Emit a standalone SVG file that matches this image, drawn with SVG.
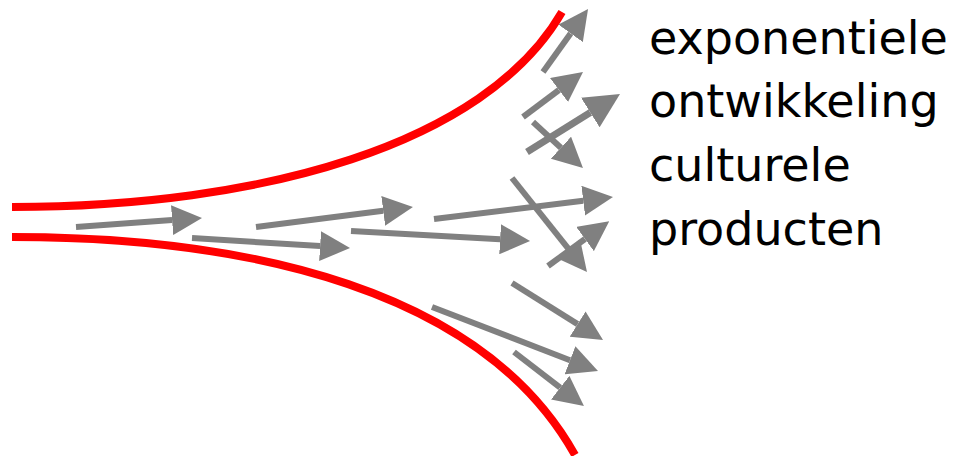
<svg xmlns="http://www.w3.org/2000/svg" width="954" height="456" viewBox="0 0 954 456">
<style>
.red{fill:none;stroke:#ff0000;stroke-width:8}
.arr{fill:none;stroke:#808080;stroke-width:6;marker-end:url(#ah)}
.big{stroke-width:7}
.lbl{font-family:"DejaVu Sans",Verdana,sans-serif;font-size:46px;fill:#000}
</style>
<defs>
<marker id="ah" viewBox="0 0 5 5" refX="0" refY="2.5" markerWidth="5" markerHeight="5" markerUnits="strokeWidth" orient="auto">
<path d="M0,0 L5,2.5 L0,5 z" fill="#808080"/>
</marker>
</defs>
<g id="boundaries">
<path class="red" d="M12,207 C260,207 485,145 562,12"/>
<path class="red" d="M12,237 C250,237 483,290 575,455"/>
</g>
<g id="connectors">
<line class="arr" x1="76" y1="227" x2="172.1" y2="220.1"/>
<line class="arr" x1="192" y1="238" x2="320.1" y2="246.1"/>
<line class="arr" x1="256" y1="227" x2="383.2" y2="210.8"/>
<line class="arr" x1="351" y1="231" x2="500.1" y2="239.3"/>
<line class="arr" x1="434" y1="219" x2="583.2" y2="200.7"/>
<line class="arr" x1="512" y1="178" x2="568.3" y2="248.6"/>
<line class="arr" x1="548" y1="266" x2="585" y2="239"/>
<line class="arr" x1="543" y1="72" x2="570.6" y2="33.4"/>
<line class="arr" x1="523" y1="117" x2="559" y2="90"/>
<line class="arr big" x1="527" y1="152" x2="590.3" y2="112.5"/>
<line class="arr" x1="533" y1="122" x2="560.9" y2="147.7"/>
<line class="arr" x1="512" y1="283" x2="577.6" y2="324.1"/>
<line class="arr" x1="432" y1="307" x2="570" y2="360.2"/>
<line class="arr" x1="514" y1="352" x2="560.2" y2="387.7"/>
</g>
<g id="label">
<text class="lbl" x="649" y="54">exponentiele</text>
<text class="lbl" x="649" y="117">ontwikkeling</text>
<text class="lbl" x="649" y="181">culturele</text>
<text class="lbl" x="649" y="245">producten</text>
</g>
</svg>
